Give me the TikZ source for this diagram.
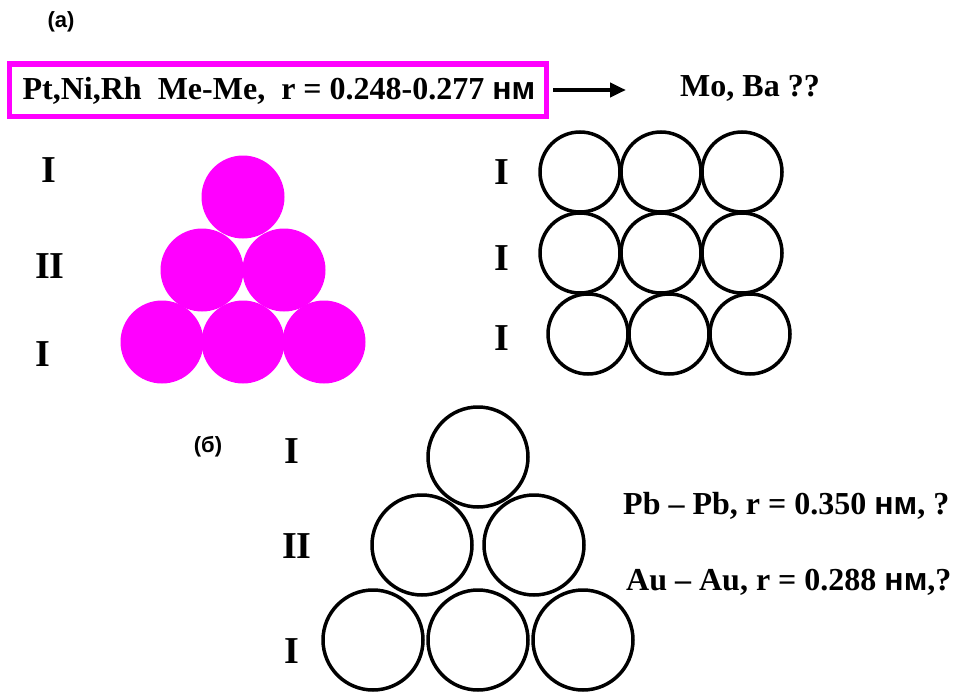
\documentclass[tikz,border=0pt]{standalone}
\usepackage{fontspec}
\setmainfont{Liberation Serif}
\newfontfamily\arialfont{Liberation Sans}
\usepackage{xcolor}
\usetikzlibrary{positioning,arrows.meta}
\definecolor{pinkfill}{HTML}{FF00FF}
\newcommand{\nm}{{\arialfont\bfseries нм}}
\tikzset{
  bigtxt/.style={font=\fontsize{32}{34}\selectfont\bfseries, inner sep=0pt},
  layerlbl/.style={font=\fontsize{38}{40}\selectfont\bfseries, inner sep=0pt},
  partlbl/.style={font=\arialfont\fontsize{22}{24}\selectfont\bfseries, inner sep=0pt},
  framebox/.style={draw=pinkfill, line width=5pt, minimum width=537pt, minimum height=52pt, inner sep=0pt},
  atomfill/.style={circle, fill=pinkfill, minimum size=83pt, inner sep=0pt},
  atom/.style={circle, draw=black, line width=3.5pt, minimum size=#1, inner sep=0pt},
  atom/.default=80pt,
  flow/.style={-{Triangle[length=16pt, width=14pt]}, line width=4pt},
}
\begin{document}
\begin{tikzpicture}[x=1pt, y=-1pt]
  \useasboundingbox (0,0) rectangle (955,693);
  % part (a)
  \node[partlbl] (pa) at (61,22) {(а)};
  \node[framebox] (hdr) at (278,90) {};
  \node[bigtxt] (hdrtxt) at (279,91) {Pt,Ni,Rh\ \ Me-Me,\ \ r = 0.248-0.277 \nm};
  \coordinate[right=77pt of hdr.east] (arrend);
  \draw[flow] ([xshift=4pt]hdr.east) -- (arrend);
  \node[bigtxt] (moba) at (750,88) {Mo, Ba ??};

  % close packed layers, filled
  \node[layerlbl] (la1) at (49,170) {I};
  \node[layerlbl] (la2) at (50,266) {II};
  \node[layerlbl] (la3) at (43,354) {I};
  \node[atomfill] (m1) at (243,197) {};
  \node[atomfill] (m2) at (202,270) {};
  \node[atomfill] (m3) at (284,270) {};
  \foreach \i/\x in {4/162,5/243,6/324}
    \node[atomfill] (m\i) at (\x,342) {};

  % square layers
  \node[layerlbl] (lb1) at (502,172) {I};
  \node[layerlbl] (lb2) at (502,258) {I};
  \node[layerlbl] (lb3) at (502,338) {I};
  \foreach \c/\x in {1/580,2/661,3/742} {
    \node[atom] (s1\c) at (\x,172) {};
    \node[atom] (s2\c) at (\x,253) {};
    \node[atom] (s3\c) at (\x+8,334) {};
  }

  % part (b)
  \node[partlbl] (pb) at (208,447) {(б)};
  \node[layerlbl] (lc1) at (292,451) {I};
  \node[layerlbl] (lc2) at (297,546) {II};
  \node[layerlbl] (lc3) at (292,651) {I};
  \node[atom=100pt] (b1) at (478,457) {};
  \node[atom=100pt] (b2) at (422,545) {};
  \node[atom=100pt] (b3) at (534,545) {};
  \foreach \i/\x in {4/373,5/478,6/583}
    \node[atom=100pt] (b\i) at (\x,640) {};
  \node[bigtxt, anchor=west] (pbtxt) at (623,506) {Pb -- Pb, r = 0.350 \nm, ?};
  \node[bigtxt, anchor=west] (autxt) at (626,582) {Au -- Au, r = 0.288 \nm,?};
\end{tikzpicture}
\end{document}
